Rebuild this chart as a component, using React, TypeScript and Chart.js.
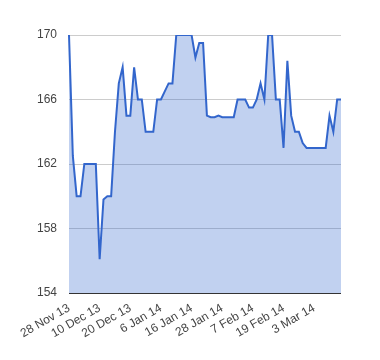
import React, { useEffect, useRef } from "react";
import { Chart, registerables } from "chart.js";

Chart.register(...registerables);

const dates: string[] = [
  "28 Nov 13", "29 Nov 13", "2 Dec 13", "3 Dec 13", "4 Dec 13", "5 Dec 13", "6 Dec 13", "9 Dec 13",
  "10 Dec 13", "11 Dec 13", "12 Dec 13", "13 Dec 13", "16 Dec 13", "17 Dec 13", "18 Dec 13", "19 Dec 13",
  "20 Dec 13", "23 Dec 13", "26 Dec 13", "27 Dec 13", "30 Dec 13", "31 Dec 13", "2 Jan 14", "3 Jan 14",
  "6 Jan 14", "7 Jan 14", "8 Jan 14", "9 Jan 14", "10 Jan 14", "13 Jan 14", "14 Jan 14", "15 Jan 14",
  "16 Jan 14", "17 Jan 14", "20 Jan 14", "21 Jan 14", "22 Jan 14", "23 Jan 14", "24 Jan 14", "27 Jan 14",
  "28 Jan 14", "29 Jan 14", "30 Jan 14", "31 Jan 14", "3 Feb 14", "4 Feb 14", "5 Feb 14", "6 Feb 14",
  "7 Feb 14", "10 Feb 14", "11 Feb 14", "12 Feb 14", "13 Feb 14", "14 Feb 14", "17 Feb 14", "18 Feb 14",
  "19 Feb 14", "20 Feb 14", "21 Feb 14", "24 Feb 14", "25 Feb 14", "26 Feb 14", "27 Feb 14", "28 Feb 14",
  "3 Mar 14", "4 Mar 14", "5 Mar 14", "6 Mar 14", "7 Mar 14", "10 Mar 14", "11 Mar 14", "12 Mar 14",
];

const values: number[] = [
  170, 162.5, 160, 160, 162, 162, 162, 162,
  156.1, 159.8, 160, 160, 164, 167, 168, 165,
  165, 168, 166, 166, 164, 164, 164, 166,
  166, 166.5, 167, 167, 170, 170, 170, 170,
  170, 168.6, 169.5, 169.5, 165, 164.9, 164.9, 165,
  164.9, 164.9, 164.9, 164.9, 166, 166, 166, 165.5,
  165.5, 166, 167, 166, 170, 170, 166, 166,
  163, 168.4, 165, 164, 164, 163.3, 163, 163,
  163, 163, 163, 163, 165, 164, 166, 166,
];

const yTicks: number[] = [154, 158, 162, 166, 170];
const labelEvery = 8;

export default function App() {
  const ref = useRef<HTMLCanvasElement | null>(null);
  useEffect(() => {
    if (!ref.current) return;
    const chart = new Chart(ref.current, {
      type: "line",
      data: {
        labels: dates,
        datasets: [
          {
            data: values,
            borderColor: "#3366cc",
            backgroundColor: "rgba(51,102,204,0.3)",
            borderWidth: 2,
            pointRadius: 0,
            tension: 0,
            fill: "start",
          },
        ],
      },
      options: {
        animation: false,
        responsive: true,
        maintainAspectRatio: false,
        layout: { padding: { top: 35, right: 39, left: 0, bottom: 0 } },
        plugins: { legend: { display: false }, tooltip: { enabled: false } },
        scales: {
          x: {
            type: "category",
            offset: false,
            grid: { display: false, drawTicks: false },
            border: { display: false },
            ticks: {
              autoSkip: false,
              minRotation: 30,
              maxRotation: 30,
              padding: 8,
              color: "#444",
              font: { family: "Arial, 'Liberation Sans'", size: 12 },
              callback: (_v: any, i: number) => (i % labelEvery === 0 ? dates[i] : null),
            },
            afterFit: (s: any) => {
              s.height = 67;
            },
          },
          y: {
            min: 154,
            max: 170,
            afterBuildTicks: (s: any) => {
              s.ticks = yTicks.map((v) => ({ value: v }));
            },
            grid: {
              drawTicks: false,
              color: (ctx: any) => (ctx.tick && ctx.tick.value === 154 ? "#333" : "#cccccc"),
            },
            border: { display: false },
            ticks: {
              padding: 12,
              color: "#444",
              font: { family: "Arial, 'Liberation Sans'", size: 12 },
            },
            afterFit: (s: any) => {
              s.width = 69;
            },
          },
        },
      },
    });
    return () => chart.destroy();
  }, []);
  return (
    <div style={{ position: "fixed", left: 0, top: 0, width: 380, height: 360, background: "#fff" }}>
      <canvas ref={ref} />
    </div>
  );
}
